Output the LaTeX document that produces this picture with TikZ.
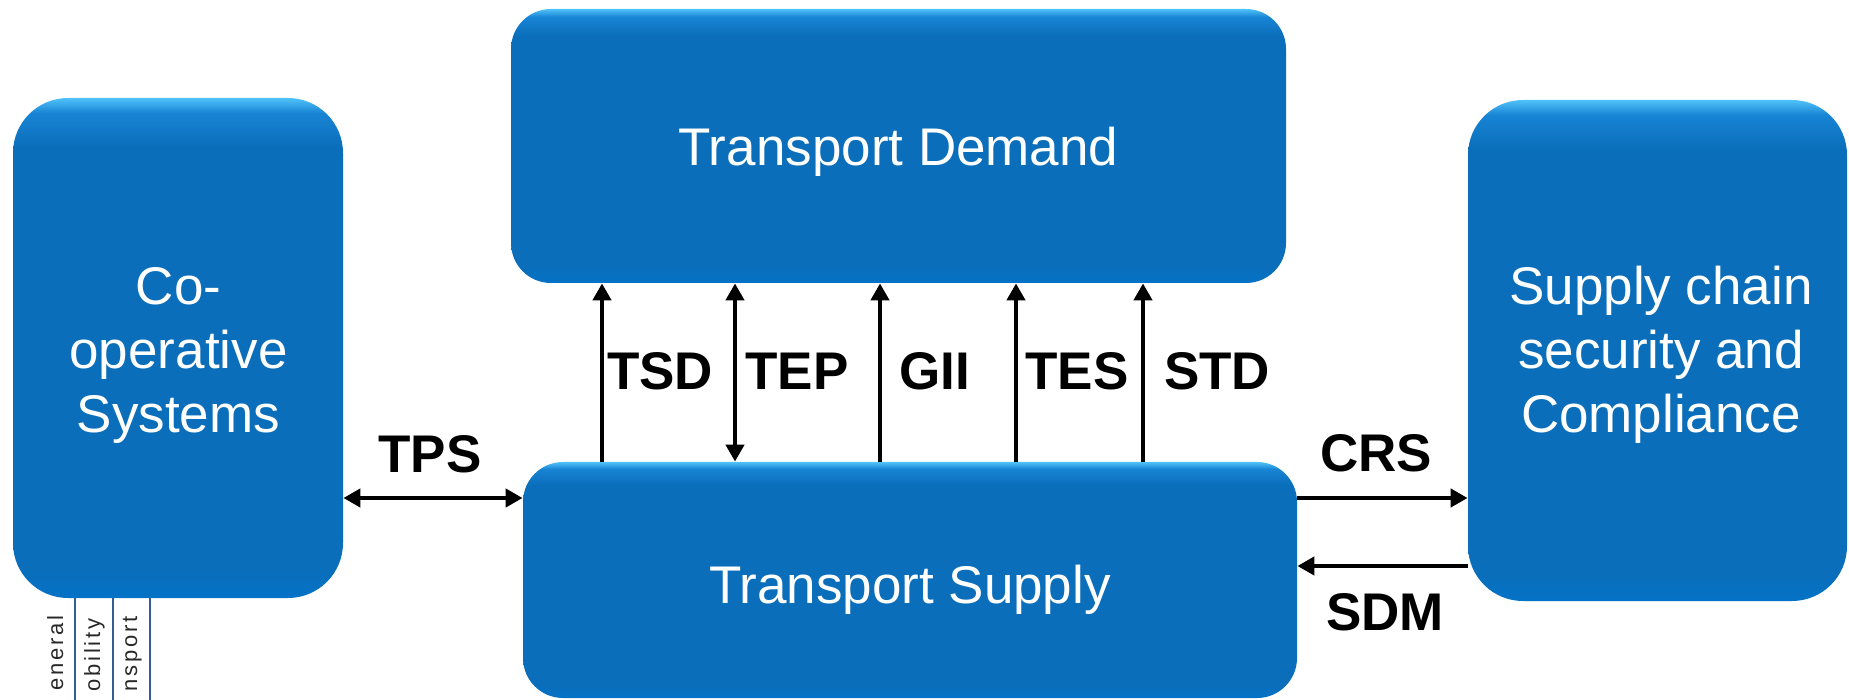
\documentclass[tikz,border=0pt]{standalone}
\usepackage{fontspec}
\setmainfont{Liberation Sans}
\usetikzlibrary{arrows.meta}

\definecolor{tileM}{RGB}{10,110,186}
\definecolor{tileB}{RGB}{4,114,198}
\definecolor{tileH}{RGB}{80,194,250}
\definecolor{tileH2}{RGB}{24,132,212}
\definecolor{tabline}{RGB}{50,96,146}
\definecolor{tabtext}{RGB}{40,40,40}

% blue tile: bright rim along the top edge, flat body, slightly brighter foot
\pgfdeclareverticalshading{tileshade}{100bp}{%
  color(0bp)=(tileB); color(25bp)=(tileB); color(28bp)=(tileM);
  color(70bp)=(tileM); color(73.5bp)=(tileH2); color(75bp)=(tileH);
  color(100bp)=(tileH)}

\tikzset{
  tile/.style={rounded corners=#1, shade, shading=tileshade, inner sep=0pt,
    text=white, align=center, font=\fontsize{26.5}{32}\selectfont},
  tiletext/.style={inner sep=0pt, text=white, align=center,
    font=\fontsize{26.5}{32}\selectfont},
  lbl/.style={inner sep=0pt, anchor=base,
    font=\fontsize{26.5}{31}\selectfont\bfseries},
  arr/.style={line width=2.25pt, -{Triangle[length=8.5pt,width=9pt]}},
  arrboth/.style={line width=2.25pt,
    {Triangle[length=8.5pt,width=9pt]}-{Triangle[length=8.5pt,width=9pt]}},
  tab/.style={rotate=90, inner sep=0pt, anchor=base east, text=tabtext,
    font=\fontsize{11}{13}\selectfont\addfontfeatures{LetterSpace=13}},
  tabrule/.style={draw=tabline, line width=1.3pt}
}

\begin{document}
\begin{tikzpicture}[x=0.5pt, y=-0.5pt]
\clip (0,0) rectangle (1849,700);

% tab strip peeking out below the left tile
\foreach \x in {75,113,150} \draw[tabrule] (\x,590) -- (\x,700);
\node[tab] (tabA) at (63,615)  {eneral};
\node[tab] (tabB) at (100,618) {obility};
\node[tab] (tabC) at (137,616) {nsport};

% tiles
\node[tile=27.5pt, minimum width=165pt, minimum height=250pt] (cs) at (178,348) {};
\node[tiletext] (csT) at (178.5,355) {Co-\\operative\\Systems};

\node[tile=20pt, minimum width=387.5pt, minimum height=137pt, text depth=0pt] (td)
  at (898.5,146) {Transport Demand};
\node[tile=20pt, minimum width=387pt, minimum height=118pt,
  text depth=0pt, text height=23pt] (ts)
  at (910,580) {Transport Supply};

\node[tile=27.5pt, minimum width=189.5pt, minimum height=250.5pt] (sc) at (1657.5,350.5) {};
\node[tiletext] (scT) at (1661,355) {Supply chain\\security and\\Compliance};

% flows between supply and demand
\draw[arr]     (602,0 |- ts.north)  -- (602,0 |- td.south);
\draw[arrboth] (735,0 |- td.south)  -- (735,0 |- ts.north);
\draw[arr]     (880,0 |- ts.north)  -- (880,0 |- td.south);
\draw[arr]     (1016,0 |- ts.north) -- (1016,0 |- td.south);
\draw[arr]     (1143,0 |- ts.north) -- (1143,0 |- td.south);

\node[lbl] (lTSD) at (660,390)  {TSD};
\node[lbl] (lTEP) at (797,390)  {TEP};
\node[lbl] (lGII) at (935,390)  {GII};
\node[lbl] (lTES) at (1077,390) {TES};
\node[lbl] (lSTD) at (1217,390) {STD};

% side flows
\draw[arrboth] (cs.east |- 0,498) -- (ts.west |- 0,498);
\draw[arr]     (ts.east |- 0,498) -- (sc.west |- 0,498);
\draw[arr]     (sc.west |- 0,566) -- (ts.east |- 0,566);

\node[lbl] (lTPS) at (430,473)  {TPS};
\node[lbl] (lCRS) at (1376,472) {CRS};
\node[lbl] (lSDM) at (1385,630) {SDM};
\end{tikzpicture}
\end{document}
